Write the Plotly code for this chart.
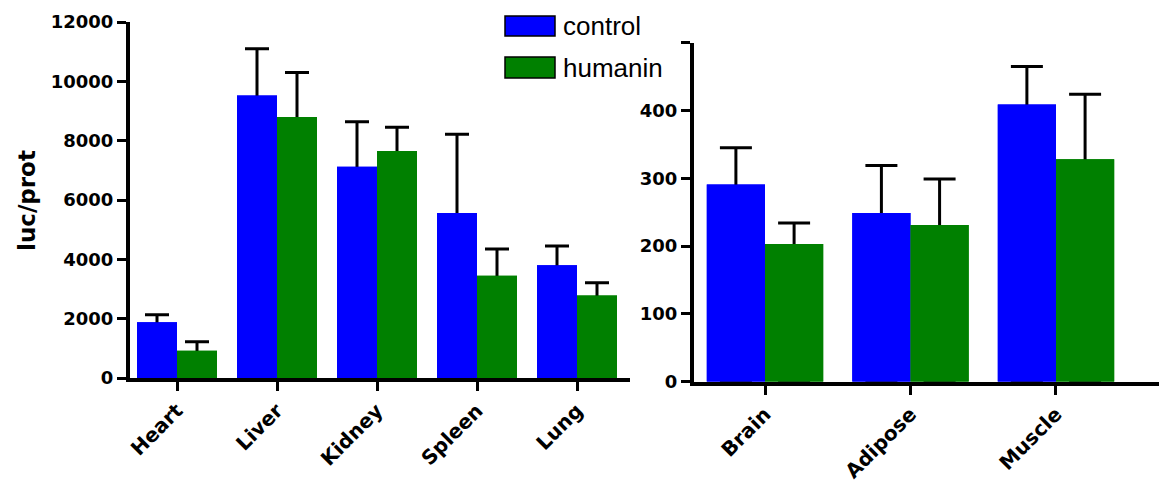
import plotly.graph_objects as go

# ---- data ----
left_categories = ["Heart", "Liver", "Kidney", "Spleen", "Lung"]
left_control = [1880, 9520, 7120, 5560, 3800]
left_control_err = [250, 1580, 1520, 2660, 650]
left_humanin = [920, 8800, 7650, 3450, 2780]
left_humanin_err = [300, 1500, 800, 900, 430]

right_categories = ["Brain", "Adipose", "Muscle"]
right_control = [291, 249, 409]
right_control_err = [54, 70, 56]
right_humanin = [203, 231, 328]
right_humanin_err = [31, 68, 96]

left_yticks = [0, 2000, 4000, 6000, 8000, 10000, 12000]
right_yticks = [0, 100, 200, 300, 400, 500]
right_yticklabels = ["0", "100", "200", "300", "400", ""]

series_names = ["control", "humanin"]
series_colors = ["#0000FF", "#008000"]

W, H = 1167, 486
OFF = 8  # page body margin offset
BOLD_FONT = "DejaVu Sans, Arial, sans-serif"
LEG_FONT = "Liberation Sans, Arial, sans-serif"


def fx(px):
    return (px - OFF) / W


def fy(py):
    return (H - (py - OFF)) / H


fig = go.Figure()


def add_series(cats, vals, errs, name, color, xa, ya, capw, group):
    # bars with error bars running from 0; the overlay bars above hide the part inside the bar
    fig.add_trace(go.Bar(
        x=cats, y=vals, name=name, offsetgroup=group,
        marker=dict(color=color, line=dict(width=0)),
        error_y=dict(type="data", array=errs, arrayminus=vals, symmetric=False,
                     color="black", thickness=3, width=capw),
        xaxis=xa, yaxis=ya, showlegend=False, hoverinfo="skip"))


def add_overlay(cats, vals, name, color, xa, ya, group):
    fig.add_trace(go.Bar(
        x=cats, y=vals, name=name, offsetgroup=group,
        marker=dict(color=color, line=dict(width=0)),
        xaxis=xa, yaxis=ya, showlegend=False))


add_series(left_categories, left_control, left_control_err, series_names[0], series_colors[0], "x", "y", 12, "c")
add_series(left_categories, left_humanin, left_humanin_err, series_names[1], series_colors[1], "x", "y", 12, "h")
add_series(right_categories, right_control, right_control_err, series_names[0], series_colors[0], "x2", "y2", 16, "c")
add_series(right_categories, right_humanin, right_humanin_err, series_names[1], series_colors[1], "x2", "y2", 16, "h")

add_overlay(left_categories, left_control, series_names[0], series_colors[0], "x3", "y3", "c")
add_overlay(left_categories, left_humanin, series_names[1], series_colors[1], "x3", "y3", "h")
add_overlay(right_categories, right_control, series_names[0], series_colors[0], "x4", "y4", "c")
add_overlay(right_categories, right_humanin, series_names[1], series_colors[1], "x4", "y4", "h")

ytickfont = dict(family=BOLD_FONT, size=18, color="black", weight="bold")
xtickfont = dict(family=BOLD_FONT, size=20, color="black", weight="bold")
axis_common = dict(showline=True, linecolor="black", linewidth=4, ticks="outside",
                   ticklen=9, tickwidth=3, tickcolor="black", showgrid=False,
                   zeroline=False, automargin=False)
hidden = dict(visible=False, showgrid=False, zeroline=False, automargin=False)

left_xrange = [-0.47, 4.53]
right_xrange = [-0.488, 2.818]
left_yrange = [0, 12000]
right_yrange = [0, 500]

fig.update_layout(
    width=W, height=H, margin=dict(l=0, r=0, t=0, b=0, autoexpand=False),
    paper_bgcolor="white", plot_bgcolor="white",
    barmode="group", bargap=0.2, bargroupgap=0,
    xaxis=dict(domain=[fx(130), fx(630)], range=left_xrange, anchor="y",
               tickangle=-45, tickfont=xtickfont, **axis_common),
    yaxis=dict(domain=[fy(378), fy(22)], range=left_yrange, anchor="x",
               tickvals=left_yticks, ticktext=[str(v) for v in left_yticks],
               tickfont=ytickfont, **axis_common),
    xaxis2=dict(domain=[fx(694), 1.0], range=right_xrange, anchor="y2",
                tickangle=-45, tickfont=xtickfont, **axis_common),
    yaxis2=dict(domain=[fy(381.7), fy(42.7)], range=right_yrange, anchor="x2",
                tickvals=right_yticks, ticktext=right_yticklabels,
                tickfont=ytickfont, **axis_common),
    xaxis3=dict(overlaying="x", anchor="y3", range=left_xrange,
                categoryorder="array", categoryarray=left_categories, **hidden),
    yaxis3=dict(overlaying="y", anchor="x3", range=left_yrange, **hidden),
    xaxis4=dict(overlaying="x2", anchor="y4", range=right_xrange,
                categoryorder="array", categoryarray=right_categories, **hidden),
    yaxis4=dict(overlaying="y2", anchor="x4", range=right_yrange, **hidden),
    showlegend=False,
)

# y-axis title
fig.add_annotation(text="luc/prot", xref="paper", yref="paper", x=fx(27), y=fy(201),
                   textangle=-90, showarrow=False, xanchor="center", yanchor="middle",
                   font=dict(family=BOLD_FONT, size=23, color="black", weight="bold"))

# manual legend
legend_rows = [(16, 36), (57, 78)]
for (y0, y1), name, color in zip(legend_rows, series_names, series_colors):
    fig.add_shape(type="rect", xref="paper", yref="paper",
                  x0=fx(505), x1=fx(555), y0=fy(y1), y1=fy(y0),
                  fillcolor=color, line=dict(color="black", width=1.5))
    fig.add_annotation(text=name, xref="paper", yref="paper", x=fx(561), y=fy((y0 + y1) / 2),
                       showarrow=False, xanchor="left", yanchor="middle",
                       font=dict(family=LEG_FONT, size=26, color="black"))

fig.write_html("out.html")
